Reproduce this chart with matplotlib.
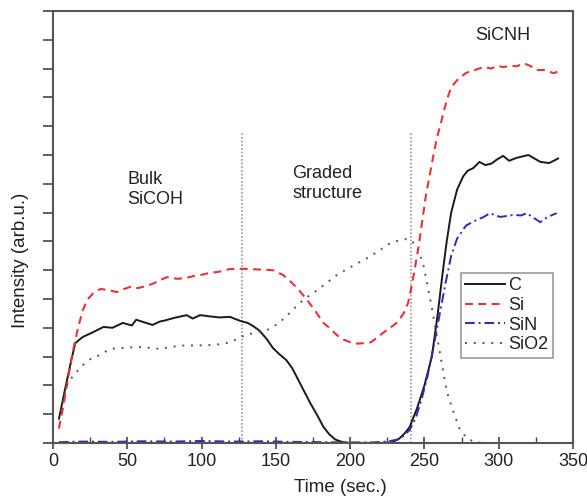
import matplotlib
matplotlib.use("Agg")
import matplotlib.pyplot as plt
from matplotlib.ticker import MultipleLocator, NullFormatter

plt.rcParams['font.family'] = ['Liberation Sans', 'DejaVu Sans']

# ---- data ----
t_c = [4, 8, 12, 15, 20, 27, 34, 40, 47, 53, 56, 62, 67, 72, 75, 82, 90, 94, 99, 105,
       112, 119, 126, 131, 135, 139, 144, 148, 152, 157, 161, 165, 169, 173, 178, 182, 186,
       190, 195, 200, 210, 220, 228, 233, 237, 240, 245, 250, 255, 259, 262, 265, 268,
       272, 276, 279, 283, 287, 291, 295, 299, 303, 307, 312, 316, 320, 324, 328, 334, 340]
v_c = [0.85, 1.84, 2.8, 3.47, 3.68, 3.85, 4.03, 4.0, 4.17, 4.08, 4.28, 4.18, 4.1, 4.22, 4.25,
       4.35, 4.44, 4.32, 4.44, 4.4, 4.36, 4.38, 4.24, 4.17, 4.05, 3.9, 3.6, 3.3, 3.1, 2.88,
       2.6, 2.2, 1.8, 1.4, 0.95, 0.56, 0.3, 0.12, 0.03, 0.0, 0.0, 0.0, 0.02, 0.15, 0.35, 0.55,
       1.2, 2.0, 3.0, 4.5, 5.8, 7.0, 8.0, 8.8, 9.25, 9.45, 9.55, 9.76, 9.65, 9.7, 9.85, 9.97,
       9.8, 9.9, 9.95, 10.0, 9.88, 9.76, 9.72, 9.88]

t_si = [4, 7, 10, 13, 17, 20, 23, 27, 32, 38, 43, 48, 52, 57, 63, 68, 72, 77, 84, 90, 95,
        99, 105, 112, 119, 126, 133, 140, 148, 155, 160, 164, 171, 177, 182, 186, 191, 195,
        200, 205, 210, 214, 218, 222, 227, 232, 236, 239, 242, 246, 251, 255, 258, 262, 265,
        268, 272, 278, 284, 290, 295, 299, 303, 308, 312, 317, 321, 326, 331, 337, 340]
v_si = [0.5, 1.3, 2.2, 3.1, 4.03, 4.6, 4.97, 5.2, 5.35, 5.3, 5.24, 5.35, 5.42, 5.38, 5.45,
        5.55, 5.66, 5.76, 5.7, 5.74, 5.8, 5.83, 5.9, 5.95, 6.04, 6.05, 6.04, 6.02, 6.0, 5.83,
        5.6, 5.4, 4.97, 4.55, 4.17, 4.0, 3.75, 3.6, 3.5, 3.45, 3.47, 3.5, 3.65, 3.82, 4.0,
        4.2, 4.5, 4.86, 5.6, 6.8, 8.6, 9.7, 10.5, 11.3, 11.9, 12.35, 12.6, 12.85, 12.95,
        13.06, 13.0, 13.1, 13.05, 13.1, 13.08, 13.18, 13.1, 12.95, 12.95, 12.84, 12.9]

t_sin = [4, 20, 40, 60, 80, 100, 120, 140, 160, 180, 200, 215, 225, 232, 236, 240, 244, 248,
         252, 256, 260, 264, 268, 272, 278, 285, 290, 294, 298, 301, 305, 310, 315, 319, 324,
         328, 333, 339]
v_sin = [0.03, 0.05, 0.04, 0.06, 0.05, 0.07, 0.05, 0.06, 0.04, 0.03, 0.02, 0.02, 0.05, 0.12,
         0.25, 0.45, 0.85, 1.5, 2.3, 3.3, 4.4, 5.5, 6.5, 7.1, 7.55, 7.74, 7.85, 7.98, 7.9,
         7.85, 7.88, 7.92, 7.9, 7.98, 7.8, 7.67, 7.85, 7.98]

t_sio2 = [4, 7, 10, 15, 20, 26, 32, 38, 44, 50, 55, 61, 67, 72, 79, 85, 90, 96, 102, 108,
          114, 120, 126, 132, 138, 144, 150, 155, 160, 166, 172, 178, 184, 191, 200, 207,
          213, 220, 227, 232, 237, 241, 245, 249, 252, 256, 260, 265, 269, 274, 279, 284,
          290, 300, 310, 320, 330, 340]
v_sio2 = [0.8, 1.5, 2.1, 2.42, 2.7, 2.95, 3.06, 3.26, 3.3, 3.3, 3.34, 3.32, 3.3, 3.26, 3.34,
          3.36, 3.4, 3.38, 3.4, 3.4, 3.45, 3.5, 3.68, 3.78, 3.85, 3.92, 4.1, 4.3, 4.55, 4.86,
          5.1, 5.31, 5.55, 5.83, 6.1, 6.3, 6.46, 6.7, 6.94, 7.02, 7.08, 7.05, 6.8, 6.25, 5.5,
          4.4, 3.25, 1.8, 1.15, 0.45, 0.15, 0.03, 0.0, 0.0, 0.0, 0.0, 0.0, 0.0]

boundaries = [127, 241]
region_labels = ["Bulk\nSiCOH", "Graded\nstructure", "SiCNH"]
region_x = [50, 161, 284]
region_y = [8.8, 9.0, 14.15]

# ---- figure ----
fig = plt.figure(figsize=(5.87, 5.04), dpi=100)
ax = fig.add_axes([53/587, 1-443/504, 520/587, 432/504])

tc = '#222222'
ax.plot(t_c, v_c, color='#1a1a1a', lw=1.4, label='C')
ax.plot(t_si, v_si, color='#e8323c', lw=1.5, ls=(0, (3.8, 2.6)), label='Si')
ax.plot(t_sin, v_sin, color='#2b2bb5', lw=1.4, ls=(0, (5, 2, 1, 2)), label='SiN')
ax.plot(t_sio2, v_sio2, color='#555555', lw=1.4, ls=(0, (1, 3.5)), label='SiO2')

for b in boundaries:
    ax.plot([b, b], [0, 10.8], color='#999999', lw=1.2, ls=(0, (1, 1.2)), zorder=1)

for s, x, y in zip(region_labels, region_x, region_y):
    ax.text(x, y, s, fontsize=13, color=tc, ha='left', va='center', linespacing=1.25)

ax.set_xlim(0, 350)
ax.set_ylim(0, 15)
ax.xaxis.set_major_locator(MultipleLocator(50))
ax.xaxis.set_minor_locator(MultipleLocator(25))
ax.yaxis.set_major_locator(MultipleLocator(1))
ax.yaxis.set_major_formatter(NullFormatter())
ax.tick_params(axis='x', which='major', direction='inout', length=8, width=1.2,
               labelsize=13, labelcolor=tc, color='#444444', pad=3)
ax.tick_params(axis='x', which='minor', direction='in', length=4, width=1.0, color='#444444')
ax.tick_params(axis='y', which='major', direction='out', length=7, width=1.2, color='#444444')
ax.tick_params(top=False, right=False)
for sp in ax.spines.values():
    sp.set_color('#555555')
    sp.set_linewidth(1.5)

ax.set_xlabel('Time (sec.)', fontsize=13.5, color=tc)
ax.set_ylabel('Intensity (arb.u.)', fontsize=13.5, color=tc)
ax.xaxis.set_label_coords(0.552, -0.083)
ax.yaxis.set_label_coords(-0.047, 0.424)

leg = ax.legend(loc='lower right', bbox_to_anchor=(0.962, 0.197), fontsize=13,
                frameon=True, fancybox=False, edgecolor='#999999', framealpha=1,
                handlelength=2.2, handletextpad=0.2, labelspacing=0.15,
                borderpad=0.25, borderaxespad=0)
leg.get_frame().set_linewidth(1.2)
for txt in leg.get_texts():
    txt.set_color(tc)

fig.savefig('out.png', dpi=100)
